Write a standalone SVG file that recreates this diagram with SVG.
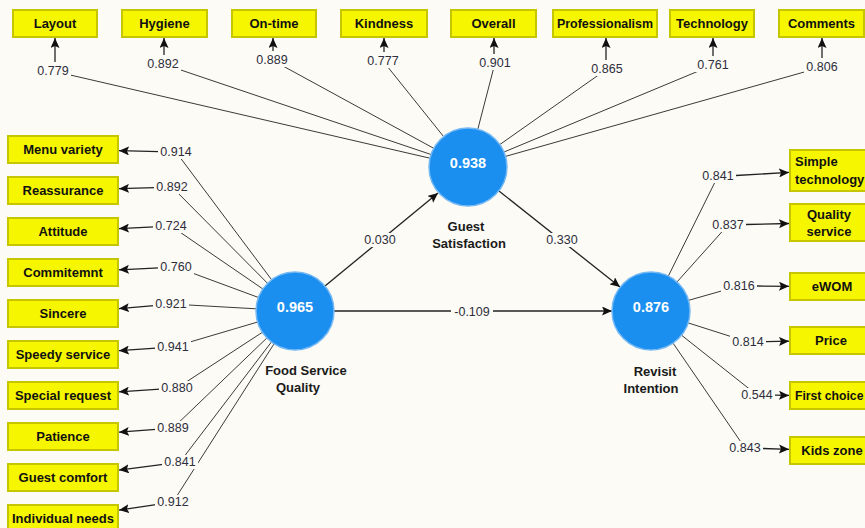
<svg xmlns="http://www.w3.org/2000/svg" width="865" height="528" viewBox="0 0 865 528">
<style>
.bg{fill:#fcfbf5}
.box{fill:#f6f600;stroke:#c6c600;stroke-width:2}
.bt{font-family:"Liberation Sans",Arial,sans-serif;font-weight:bold;font-size:13px;fill:#111;text-anchor:middle}
.ln{stroke:#3a3a3a;stroke-width:1;fill:none}
.ar{stroke:#222;stroke-width:1.3;fill:none;marker-end:url(#ah)}
.lb{fill:#fcfbf5}
.lt{font-family:"Liberation Sans",Arial,sans-serif;font-size:12.5px;fill:#2e2e3c;text-anchor:middle}
.cc{fill:#1a8ff0;stroke:#74b8f4;stroke-width:1.5}
.ct{font-family:"Liberation Sans",Arial,sans-serif;font-weight:bold;font-size:14.5px;fill:#fff;text-anchor:middle}
.cn{font-family:"Liberation Sans",Arial,sans-serif;font-weight:bold;font-size:13px;fill:#1a1a1a;text-anchor:middle}
</style>
<defs>
<marker id="ah" markerUnits="userSpaceOnUse" viewBox="0 0 10 9" refX="10" refY="4.5" markerWidth="10" markerHeight="9" orient="auto">
<path d="M0,0 L10,4.5 L0,9 L2,4.5 z" fill="#111"/>
</marker>
</defs>
<rect class="bg" x="0" y="0" width="865" height="528"/>

<g id="connectors">
<line class="ln" x1="468" y1="167" x2="53" y2="71"/>
<line class="ln" x1="468" y1="167" x2="163" y2="64"/>
<line class="ln" x1="468" y1="167" x2="272" y2="60"/>
<line class="ln" x1="468" y1="167" x2="383" y2="61"/>
<line class="ln" x1="468" y1="167" x2="495" y2="63"/>
<line class="ln" x1="468" y1="167" x2="607" y2="69"/>
<line class="ln" x1="468" y1="167" x2="713" y2="65"/>
<line class="ln" x1="468" y1="167" x2="822" y2="67"/>
<line class="ar" x1="55" y1="62" x2="55" y2="38"/>
<line class="ar" x1="164" y1="55" x2="164" y2="38"/>
<line class="ar" x1="273" y1="51" x2="273" y2="38"/>
<line class="ar" x1="384" y1="52" x2="384" y2="38"/>
<line class="ar" x1="494" y1="54" x2="494" y2="38"/>
<line class="ar" x1="606" y1="60" x2="606" y2="38"/>
<line class="ar" x1="713" y1="56" x2="713" y2="38"/>
<line class="ar" x1="822" y1="58" x2="822" y2="38"/>
<line class="ln" x1="295" y1="311" x2="176" y2="152"/>
<line class="ln" x1="295" y1="311" x2="172" y2="187"/>
<line class="ln" x1="295" y1="311" x2="171" y2="226"/>
<line class="ln" x1="295" y1="311" x2="176" y2="267"/>
<line class="ln" x1="295" y1="311" x2="171" y2="304"/>
<line class="ln" x1="295" y1="311" x2="173" y2="347"/>
<line class="ln" x1="295" y1="311" x2="177" y2="388"/>
<line class="ln" x1="295" y1="311" x2="173" y2="428"/>
<line class="ln" x1="295" y1="311" x2="180" y2="462"/>
<line class="ln" x1="295" y1="311" x2="173" y2="502"/>
<line class="ar" x1="159" y1="151.6" x2="119" y2="150.7"/>
<line class="ar" x1="155" y1="187.6" x2="119" y2="188.7"/>
<line class="ar" x1="154" y1="226.9" x2="119" y2="228.6"/>
<line class="ar" x1="159" y1="267.9" x2="119" y2="269.8"/>
<line class="ar" x1="154" y1="305.6" x2="119" y2="308.6"/>
<line class="ar" x1="156" y1="348.2" x2="119" y2="350.7"/>
<line class="ar" x1="160" y1="389.2" x2="119" y2="391.8"/>
<line class="ar" x1="156" y1="429.4" x2="119" y2="432.2"/>
<line class="ar" x1="163" y1="464.4" x2="119" y2="470.1"/>
<line class="ar" x1="156" y1="504.7" x2="119" y2="510.1"/>
<line class="ln" x1="651" y1="311" x2="718" y2="176"/>
<line class="ln" x1="651" y1="311" x2="728" y2="225"/>
<line class="ln" x1="651" y1="311" x2="739" y2="286"/>
<line class="ln" x1="651" y1="311" x2="748" y2="342"/>
<line class="ln" x1="651" y1="311" x2="757" y2="395"/>
<line class="ln" x1="651" y1="311" x2="745" y2="448"/>
<line class="ar" x1="736" y1="175.5" x2="789" y2="172.4"/>
<line class="ar" x1="746" y1="224.5" x2="789" y2="223.5"/>
<line class="ar" x1="757" y1="286" x2="789" y2="286.3"/>
<line class="ar" x1="766" y1="341.7" x2="789" y2="341.2"/>
<line class="ar" x1="775" y1="395.2" x2="789" y2="395.4"/>
<line class="ar" x1="763" y1="448.5" x2="789" y2="449.3"/>
<line class="ar" x1="325" y1="286" x2="438" y2="193"/>
<line class="ar" x1="499" y1="191" x2="620" y2="287"/>
<line class="ar" x1="334" y1="311" x2="612" y2="311"/>
</g>

<g id="path-labels">
<rect class="lb" x="362" y="233" width="36" height="14"/><text class="lt" x="380" y="244">0.030</text>
<rect class="lb" x="544" y="233" width="36" height="14"/><text class="lt" x="562" y="244">0.330</text>
<rect class="lb" x="451" y="305" width="42" height="14"/><text class="lt" x="472" y="316">-0.109</text>
</g>

<g id="loading-labels">
<rect class="lb" x="35" y="64" width="36" height="14"/><text class="lt" x="53" y="75">0.779</text>
<rect class="lb" x="145" y="57" width="36" height="14"/><text class="lt" x="163" y="68">0.892</text>
<rect class="lb" x="254" y="53" width="36" height="14"/><text class="lt" x="272" y="64">0.889</text>
<rect class="lb" x="365" y="54" width="36" height="14"/><text class="lt" x="383" y="65">0.777</text>
<rect class="lb" x="477" y="56" width="36" height="14"/><text class="lt" x="495" y="67">0.901</text>
<rect class="lb" x="589" y="62" width="36" height="14"/><text class="lt" x="607" y="73">0.865</text>
<rect class="lb" x="695" y="58" width="36" height="14"/><text class="lt" x="713" y="69">0.761</text>
<rect class="lb" x="804" y="60" width="36" height="14"/><text class="lt" x="822" y="71">0.806</text>

<rect class="lb" x="158" y="145" width="36" height="14"/><text class="lt" x="176" y="156">0.914</text>
<rect class="lb" x="154" y="180" width="36" height="14"/><text class="lt" x="172" y="191">0.892</text>
<rect class="lb" x="153" y="219" width="36" height="14"/><text class="lt" x="171" y="230">0.724</text>
<rect class="lb" x="158" y="260" width="36" height="14"/><text class="lt" x="176" y="271">0.760</text>
<rect class="lb" x="153" y="297" width="36" height="14"/><text class="lt" x="171" y="308">0.921</text>
<rect class="lb" x="155" y="340" width="36" height="14"/><text class="lt" x="173" y="351">0.941</text>
<rect class="lb" x="159" y="381" width="36" height="14"/><text class="lt" x="177" y="392">0.880</text>
<rect class="lb" x="155" y="421" width="36" height="14"/><text class="lt" x="173" y="432">0.889</text>
<rect class="lb" x="162" y="455" width="36" height="14"/><text class="lt" x="180" y="466">0.841</text>
<rect class="lb" x="155" y="495" width="36" height="14"/><text class="lt" x="173" y="506">0.912</text>

<rect class="lb" x="700" y="169" width="36" height="14"/><text class="lt" x="718" y="180">0.841</text>
<rect class="lb" x="710" y="218" width="36" height="14"/><text class="lt" x="728" y="229">0.837</text>
<rect class="lb" x="721" y="279" width="36" height="14"/><text class="lt" x="739" y="290">0.816</text>
<rect class="lb" x="730" y="335" width="36" height="14"/><text class="lt" x="748" y="346">0.814</text>
<rect class="lb" x="739" y="388" width="36" height="14"/><text class="lt" x="757" y="399">0.544</text>
<rect class="lb" x="727" y="441" width="36" height="14"/><text class="lt" x="745" y="452">0.843</text>
</g>

<g id="guest-satisfaction">
<circle class="cc" cx="468" cy="167" r="39"/>
<text class="ct" x="468" y="168">0.938</text>
<text class="cn" x="466" y="231">Guest</text>
<text class="cn" x="469" y="248">Satisfaction</text>
</g>
<g id="food-service-quality">
<circle class="cc" cx="295" cy="311" r="39"/>
<text class="ct" x="295" y="312">0.965</text>
<text class="cn" x="306" y="375">Food Service</text>
<text class="cn" x="298" y="392">Quality</text>
</g>
<g id="revisit-intention">
<circle class="cc" cx="651" cy="311" r="39"/>
<text class="ct" x="651" y="312">0.876</text>
<text class="cn" x="655" y="376">Revisit</text>
<text class="cn" x="651" y="393">Intention</text>
</g>

<g id="layout"><rect class="box" x="13" y="10" width="84" height="27"/><text class="bt" x="55" y="28">Layout</text></g>
<g id="hygiene"><rect class="box" x="122" y="10" width="85" height="27"/><text class="bt" x="164.5" y="28">Hygiene</text></g>
<g id="on-time"><rect class="box" x="232" y="10" width="84" height="27"/><text class="bt" x="274" y="28">On-time</text></g>
<g id="kindness"><rect class="box" x="341" y="10" width="86" height="27"/><text class="bt" x="384" y="28">Kindness</text></g>
<g id="overall"><rect class="box" x="451" y="10" width="85" height="27"/><text class="bt" x="493.5" y="28">Overall</text></g>
<g id="professionalism"><rect class="box" x="553" y="10" width="104" height="27"/><text class="bt" x="605" y="28" textLength="96" lengthAdjust="spacingAndGlyphs">Professionalism</text></g>
<g id="technology"><rect class="box" x="670" y="10" width="84" height="27"/><text class="bt" x="712" y="28">Technology</text></g>
<g id="comments"><rect class="box" x="779" y="10" width="85" height="27"/><text class="bt" x="821.5" y="28">Comments</text></g>

<g id="menu-variety"><rect class="box" x="8" y="136" width="110" height="27"/><text class="bt" x="63" y="154">Menu variety</text></g>
<g id="reassurance"><rect class="box" x="8" y="177" width="110" height="27"/><text class="bt" x="63" y="195">Reassurance</text></g>
<g id="attitude"><rect class="box" x="8" y="218" width="110" height="27"/><text class="bt" x="63" y="236">Attitude</text></g>
<g id="commitemnt"><rect class="box" x="8" y="259" width="110" height="27"/><text class="bt" x="63" y="277">Commitemnt</text></g>
<g id="sincere"><rect class="box" x="8" y="300" width="110" height="27"/><text class="bt" x="63" y="318">Sincere</text></g>
<g id="speedy-service"><rect class="box" x="8" y="341" width="110" height="27"/><text class="bt" x="63" y="359">Speedy service</text></g>
<g id="special-request"><rect class="box" x="8" y="382" width="110" height="27"/><text class="bt" x="63" y="400">Special request</text></g>
<g id="patience"><rect class="box" x="8" y="423" width="110" height="27"/><text class="bt" x="63" y="441">Patience</text></g>
<g id="guest-comfort"><rect class="box" x="8" y="464" width="110" height="27"/><text class="bt" x="63" y="482">Guest comfort</text></g>
<g id="individual-needs"><rect class="box" x="8" y="505" width="110" height="27"/><text class="bt" x="63" y="523" textLength="102" lengthAdjust="spacingAndGlyphs">Individual needs</text></g>

<g id="simple-technology"><rect class="box" x="790" y="150" width="90" height="41"/><text class="bt" x="795" y="166" style="text-anchor:start">Simple</text><text class="bt" x="795" y="184" style="text-anchor:start">technology</text></g>
<g id="quality-service"><rect class="box" x="790" y="204" width="90" height="37"/><text class="bt" x="829" y="219">Quality</text><text class="bt" x="829" y="236">service</text></g>
<g id="ewom"><rect class="box" x="790" y="273" width="90" height="27"/><text class="bt" x="832" y="291">eWOM</text></g>
<g id="price"><rect class="box" x="790" y="327" width="90" height="27"/><text class="bt" x="831" y="345">Price</text></g>
<g id="first-choice"><rect class="box" x="790" y="382" width="90" height="27"/><text class="bt" x="795" y="400" style="text-anchor:start;font-size:12.2px">First choice</text></g>
<g id="kids-zone"><rect class="box" x="790" y="437" width="90" height="27"/><text class="bt" x="832" y="455">Kids zone</text></g>
</svg>
